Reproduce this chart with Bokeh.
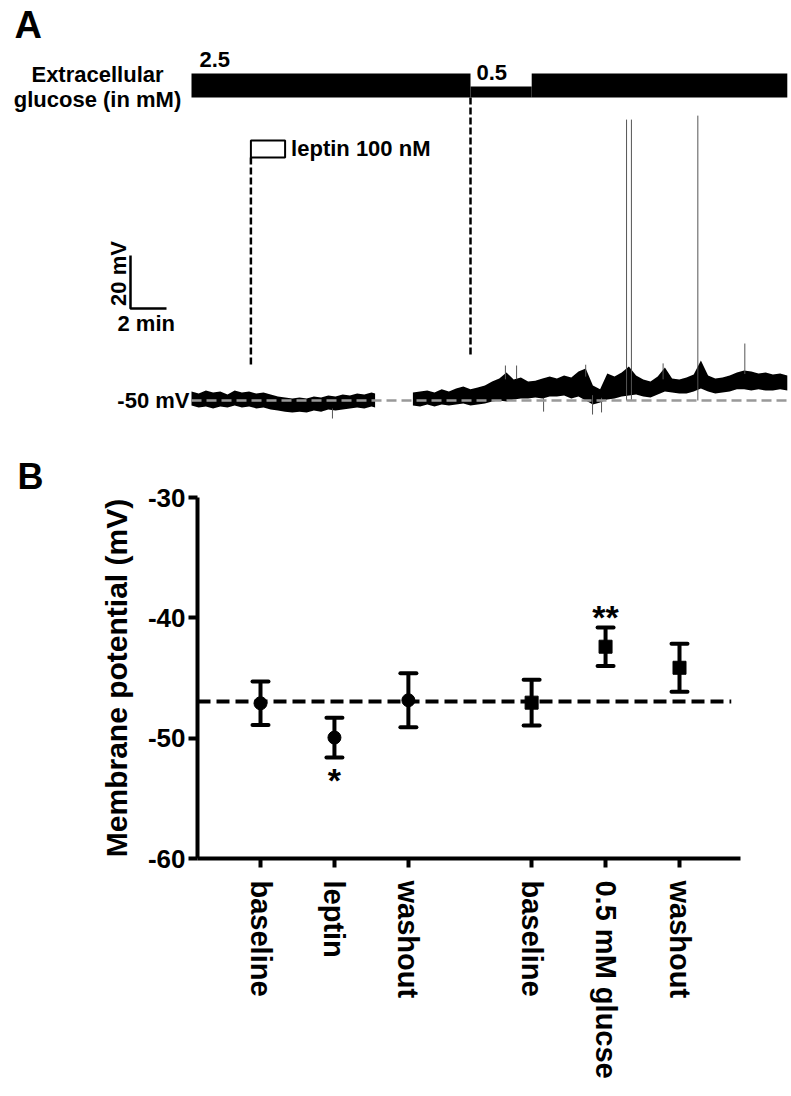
import math
from bokeh.plotting import figure
from bokeh.models import Range1d, FixedTicker, Whisker, TeeHead, ColumnDataSource, Label, Title
from bokeh.embed import file_html
from bokeh.resources import INLINE

FONT = "Liberation Sans"

# ---------------- Panel A data (time in min, potential in mV) ----------------
glucose_start = [0.0, 15.5, 18.9]
glucose_end = [15.5, 18.9, 33.1]
glucose_conc = [2.5, 0.5, 2.5]
leptin_start = 3.3
leptin_end = 5.2
rest_potential = -50

seg1_t = [0.0, 0.4, 0.8, 1.2, 1.6, 2.0, 2.4, 2.8, 3.2, 3.6, 4.0, 4.4, 4.8, 5.2,
          5.6, 6.0, 6.4, 6.8, 7.2, 7.6, 8.0, 8.4, 8.8, 9.2, 9.6, 10.0, 10.2]
seg1_hi = [-46.6, -47.4, -46.2, -47.0, -46.6, -47.7, -46.2, -47.0, -46.6, -47.4,
           -47.0, -47.7, -48.5, -48.9, -49.2, -48.9, -49.2, -48.5, -48.9, -48.1,
           -48.5, -47.7, -48.1, -47.4, -47.7, -47.0, -47.4]
seg1_lo = [-51.9, -52.6, -52.3, -53.0, -52.3, -52.6, -51.9, -52.6, -52.3, -53.0,
           -52.6, -53.4, -53.8, -54.2, -54.5, -54.2, -54.5, -53.8, -54.2, -53.4,
           -53.8, -53.4, -53.0, -52.6, -53.0, -52.3, -52.6]

seg2_t = [12.3, 12.7, 13.1, 13.5, 13.9, 14.3, 14.7, 15.1, 15.5, 15.9,
          16.3, 16.7, 17.1, 17.5, 17.9, 18.3, 18.7, 19.1, 19.5, 19.9,
          20.3, 20.7, 21.1, 21.5, 21.9, 22.3, 22.7, 23.1, 23.5, 23.9,
          24.3, 24.7, 25.1, 25.5, 25.9, 26.3, 26.7, 27.1, 27.5, 27.9,
          28.3, 28.7, 29.1, 29.5, 29.9, 30.3, 30.7, 31.1, 31.5, 31.9,
          32.3, 32.7, 33.1]
seg2_hi = [-47.0, -46.6, -46.2, -47.0, -45.8, -46.6, -45.5, -44.7, -45.8, -45.1,
           -44.3, -42.8, -41.7, -39.4, -42.1, -41.3, -42.8, -42.5, -41.7, -40.9,
           -41.7, -40.6, -41.3, -39.1, -37.9, -44.3, -45.8, -39.8, -40.9, -39.4,
           -37.2, -40.6, -42.1, -42.8, -40.9, -37.5, -41.7, -42.1, -41.3, -40.2,
           -34.9, -40.6, -41.7, -41.3, -40.6, -39.4, -38.7, -39.1, -39.8, -39.4,
           -40.2, -39.8, -40.6]
seg2_lo = [-51.9, -52.3, -51.5, -52.3, -51.5, -51.9, -51.5, -51.1, -51.9, -51.5,
           -51.1, -50.4, -50.0, -50.4, -49.6, -49.2, -49.2, -48.9, -49.2, -48.5,
           -48.5, -48.1, -49.2, -48.5, -50.0, -51.5, -50.8, -49.6, -49.2, -48.5,
           -48.1, -47.7, -48.5, -48.9, -47.7, -46.6, -47.0, -47.4, -47.4, -46.6,
           -45.5, -46.6, -47.4, -47.0, -46.6, -45.8, -45.8, -46.2, -45.8, -46.2,
           -46.2, -45.8, -46.2]

spike_t = [7.83, 17.44, 18.06, 19.56, 21.9, 22.28, 22.78, 24.17, 24.44, 26.2, 28.13, 30.74]
spike_base = [-53.0, -42.0, -42.0, -49.0, -41.0, -48.0, -49.0, -50.0, -50.0, -42.0, -50.0, -40.0]
spike_peak = [-56.8, -36.8, -36.8, -54.2, -36.5, -55.3, -54.5, 56.0, 56.0, -36.0, 57.5, -28.5]

# ---------------- Panel B data ----------------
conditions = ["baseline", "leptin", "washout", "baseline", "0.5 mM glucse", "washout"]
mean_mv = [-47.1, -49.95, -46.85, -47.05, -42.4, -44.15]
sem_mv = [1.8, 1.65, 2.25, 1.9, 1.6, 2.0]
marker_kind = ["circle", "circle", "circle", "square", "square", "square"]
significance = ["", "*", "", "", "**", ""]
baseline_mean = -46.95
y_ticks = [-60, -50, -40, -30]

# category slots on the x axis (layout)
x_slots = [3, 6, 9, 14, 17, 20]

# ================= Panel A figure =================
W = 791
A_H = 452
X0, PXMIN = 191.0, 18.0   # canvas x of t=0, px per minute
Y0, PXMV = 400.0, 2.65    # canvas y of -50 mV, px per mV


def ax(px):
    return (px - X0) / PXMIN


def ay(py):
    return rest_potential + (Y0 - py) / PXMV


pA = figure(width=W, height=A_H, output_backend="svg", toolbar_location=None,
            x_range=Range1d(ax(0), ax(W)), y_range=Range1d(ay(A_H), ay(0)),
            x_axis_type=None, y_axis_type=None, min_border=0)
pA.outline_line_color = None
pA.grid.visible = False

# glucose bar
bar_top = [ay(73) if c >= 1 else ay(86) for c in glucose_conc]
pA.quad(left=glucose_start, right=glucose_end, bottom=ay(97), top=bar_top,
        fill_color="black", line_color=None)

# trace
pA.varea(x=seg1_t, y1=seg1_lo, y2=seg1_hi, fill_color="black")
pA.varea(x=seg2_t, y1=seg2_lo, y2=seg2_hi, fill_color="black")
pA.segment(x0=spike_t, y0=spike_base, x1=spike_t, y1=spike_peak,
           line_color="#555555", line_width=1)

# -50 mV reference
pA.segment(x0=[glucose_start[0]], y0=[rest_potential], x1=[ax(787)], y1=[rest_potential],
           line_color="#999999", line_width=2.5, line_dash="10 5")

# leptin application box + dashed marker
pA.quad(left=[leptin_start], right=[leptin_end], bottom=[ay(157)], top=[ay(140)],
        fill_color=None, line_color="black", line_width=2)
pA.segment(x0=[leptin_start], y0=[ay(157)], x1=[leptin_start], y1=[ay(366)],
           line_color="black", line_width=2.5, line_dash="7 3")
# glucose switch dashed marker
pA.segment(x0=[glucose_start[1]], y0=[ay(97)], x1=[glucose_start[1]], y1=[ay(357)],
           line_color="black", line_width=2.5, line_dash="7 3")

# scale bar: 20 mV, 2 min
sb_x, sb_y = ax(130), ay(308)
pA.line(x=[sb_x, sb_x, sb_x + 2], y=[sb_y + 20, sb_y, sb_y], line_color="black",
        line_width=2.5)


def lab(fig, x, y, text, size="22px", align="left", baseline="middle", angle=0.0, x_offset=0):
    fig.add_layout(Label(x=x, y=y, text=text, text_font=FONT, text_font_style="bold",
                         text_font_size=size, text_align=align, text_baseline=baseline,
                         angle=angle, x_offset=x_offset, text_color="black"))


lab(pA, ax(14), ay(24), "A", size="38px")
lab(pA, ax(97), ay(73.5), "Extracellular", align="center")
lab(pA, ax(97), ay(98.5), "glucose (in mM)", align="center")
lab(pA, glucose_start[0], ay(59), f"{glucose_conc[0]}", x_offset=8)
lab(pA, glucose_start[1], ay(72), f"{glucose_conc[1]}", x_offset=6)
lab(pA, leptin_end, ay(148), "leptin 100 nM", x_offset=6)
lab(pA, glucose_start[0], rest_potential, "-50 mV", align="right", x_offset=-2)
lab(pA, ax(117.5), ay(273), "20 mV", align="center", angle=math.pi / 2)
lab(pA, ax(117), ay(322.5), "2 min")

# ================= Panel B figure =================
B_H = 1096 - A_H
unit = (679 - 260) / 17.0
FRAME_L = 197
pB = figure(width=W, height=B_H, output_backend="svg", toolbar_location=None,
            x_range=Range1d(3 - 63 / unit, 3 + 480 / unit), y_range=Range1d(-60, -30),
            min_border_left=FRAME_L, min_border_right=W - 740, min_border_top=497 - A_H,
            min_border_bottom=1096 - 858,
            title=Title(text="B", text_font=FONT, text_font_style="bold",
                        text_font_size="36px", text_color="black", align="left",
                        offset=17 - FRAME_L, standoff=2))
pB.outline_line_color = None
pB.grid.visible = False

upper = [m + s for m, s in zip(mean_mv, sem_mv)]
lower = [m - s for m, s in zip(mean_mv, sem_mv)]
src = ColumnDataSource(dict(x=x_slots, y=mean_mv, upper=upper, lower=lower, marker=marker_kind))

# baseline reference dashed line
pB.segment(x0=[pB.x_range.start], y0=[baseline_mean], x1=[x_slots[-1] + 2.1], y1=[baseline_mean],
           line_color="black", line_width=4, line_dash="13 6")

pB.add_layout(Whisker(source=src, base="x", upper="upper", lower="lower",
                      line_color="black", line_width=4,
                      upper_head=TeeHead(size=16, line_color="black", line_width=4, line_cap="round"),
                      lower_head=TeeHead(size=16, line_color="black", line_width=4, line_cap="round")))
pB.scatter(x="x", y="y", marker="marker", source=src, size=13, fill_color="black",
           line_color="black")

# significance markers
for xs, sig, lo, up in zip(x_slots, significance, lower, upper):
    if sig == "*":
        lab(pB, xs, lo - 1.9, sig, size="34px", align="center", baseline="alphabetic")
    elif sig == "**":
        lab(pB, xs, up + 0.9, sig, size="34px", align="center", baseline="alphabetic")

for axis in (pB.xaxis[0], pB.yaxis[0]):
    axis.axis_line_width = 4
    axis.major_tick_line_width = 4
    axis.major_tick_out = 9
    axis.major_tick_in = 0
    axis.minor_tick_line_color = None
    axis.major_label_text_font = FONT
    axis.major_label_text_font_style = "bold"
    axis.major_label_text_color = "black"

pB.yaxis.ticker = FixedTicker(ticks=y_ticks)
pB.yaxis.major_label_overrides = {t: f"{t}" for t in y_ticks}
pB.yaxis.major_label_text_font_size = "26px"
pB.yaxis.major_label_standoff = 3
pB.yaxis.axis_label = "Membrane potential (mV)"
pB.yaxis.axis_label_text_font = FONT
pB.yaxis.axis_label_text_font_style = "bold"
pB.yaxis.axis_label_text_color = "black"
pB.yaxis.axis_label_text_font_size = "30px"
pB.yaxis.axis_label_standoff = 12

pB.xaxis.ticker = FixedTicker(ticks=x_slots)
pB.xaxis.major_label_overrides = {xs: c for xs, c in zip(x_slots, conditions)}
pB.xaxis.major_label_orientation = "vertical"
pB.xaxis.major_label_text_font_size = "29px"
pB.xaxis.major_label_standoff = 13

open("out.html", "w").write(file_html([pA, pB], INLINE))
